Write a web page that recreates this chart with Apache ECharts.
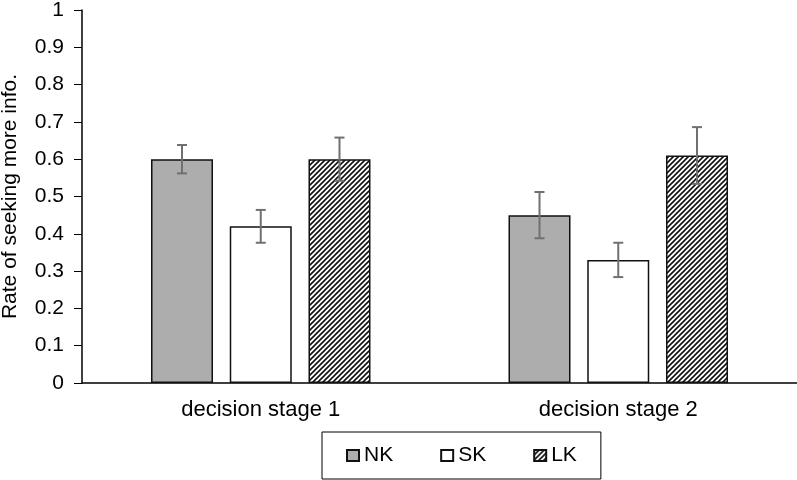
<!DOCTYPE html>
<html>
<head>
<meta charset="utf-8">
<script src="https://cdn.jsdelivr.net/npm/echarts@6/dist/echarts.min.js"></script>
<style>
  html, body { margin: 0; padding: 0; background: #fff; }
  #chart { width: 797px; height: 480px; }
</style>
</head>
<body>
<div id="chart"></div>
<script>
// data
const categories = ['decision stage 1', 'decision stage 2'];
const seriesNames = ['NK', 'SK', 'LK'];
const nkValues = [0.60, 0.45];
const skValues = [0.42, 0.33];
const lkValues = [0.60, 0.61];
const nkErrors = [0.038, 0.062];
const skErrors = [0.044, 0.046];
const lkErrors = [0.058, 0.076];

const font = 'Liberation Sans, Arial, sans-serif';
const barW = 62;
const barGapRatio = 0.27;

// diagonal hatch for LK
const hatch = document.createElement('canvas');
const hs = 5;
hatch.width = hatch.height = hs;
const hctx = hatch.getContext('2d');
hctx.fillStyle = '#fff';
hctx.fillRect(0, 0, hs, hs);
hctx.strokeStyle = '#111';
hctx.lineWidth = 1.6;
hctx.beginPath();
hctx.moveTo(-1, hs + 1); hctx.lineTo(hs + 1, -1);
hctx.moveTo(-1, 1); hctx.lineTo(1, -1);
hctx.moveTo(hs - 1, hs + 1); hctx.lineTo(hs + 1, hs - 1);
hctx.stroke();

const fills = ['#adadad', '#ffffff', { image: hatch, repeat: 'repeat' }];
const values = [nkValues, skValues, lkValues];
const errors = [nkErrors, skErrors, lkErrors];

var myChart = echarts.init(document.getElementById('chart'));

const barSeries = seriesNames.map((name, i) => ({
  name: name,
  type: 'bar',
  barWidth: barW,
  barGap: (barGapRatio * 100) + '%',
  data: values[i],
  itemStyle: {
    color: fills[i],
    borderColor: '#111',
    borderWidth: 1.5
  },
  emphasis: { disabled: true }
}));

// error bars sit on the bar centres
const errSeries = seriesNames.map((name, i) => ({
  type: 'custom',
  z: 5,
  silent: true,
  encode: { x: 0, y: 1 },
  data: values[i].map((v, k) => [k, v, errors[i][k]]),
  renderItem: function (params, api) {
    const off = (i - 1) * (barW + barW * barGapRatio);
    const x = api.coord([api.value(0), 0])[0] + off;
    const top = api.coord([api.value(0), api.value(1) + api.value(2)])[1];
    const bot = api.coord([api.value(0), api.value(1) - api.value(2)])[1];
    const st = { stroke: '#707070', lineWidth: 2 };
    return {
      type: 'group',
      children: [
        { type: 'line', shape: { x1: x, y1: top, x2: x, y2: bot }, style: st },
        { type: 'line', shape: { x1: x - 5, y1: top, x2: x + 5, y2: top }, style: st },
        { type: 'line', shape: { x1: x - 5, y1: bot, x2: x + 5, y2: bot }, style: st }
      ]
    };
  }
}));

myChart.setOption({
  animation: false,
  textStyle: { fontFamily: font },
  grid: { left: 82, right: 0, top: 10, bottom: 97, containLabel: false, outerBoundsMode: 'none' },
  legend: {
    data: seriesNames,
    left: 322,
    top: 432,
    icon: 'rect',
    itemWidth: 12,
    itemHeight: 11,
    itemGap: 47,
    padding: [13, 24],
    borderColor: '#000',
    borderWidth: 1,
    selectedMode: false,
    textStyle: { fontSize: 21, color: '#000', fontFamily: font }
  },
  xAxis: {
    type: 'category',
    data: categories,
    axisLine: { lineStyle: { color: '#000', width: 1.5 } },
    axisTick: { show: false },
    axisLabel: { fontSize: 22, color: '#000', margin: 16, fontFamily: font }
  },
  yAxis: {
    type: 'value',
    min: 0,
    max: 1,
    interval: 0.1,
    name: 'Rate of seeking more info.',
    nameLocation: 'middle',
    nameGap: 61,
    nameTextStyle: { fontSize: 21, color: '#000', fontFamily: font },
    splitLine: { show: false },
    axisLine: { show: true, lineStyle: { color: '#000', width: 1.5 } },
    axisTick: { show: true, length: 8, lineStyle: { color: '#000' } },
    axisLabel: { fontSize: 21, color: '#000', margin: 18, fontFamily: font }
  },
  series: barSeries.concat(errSeries)
});
</script>
</body>
</html>
